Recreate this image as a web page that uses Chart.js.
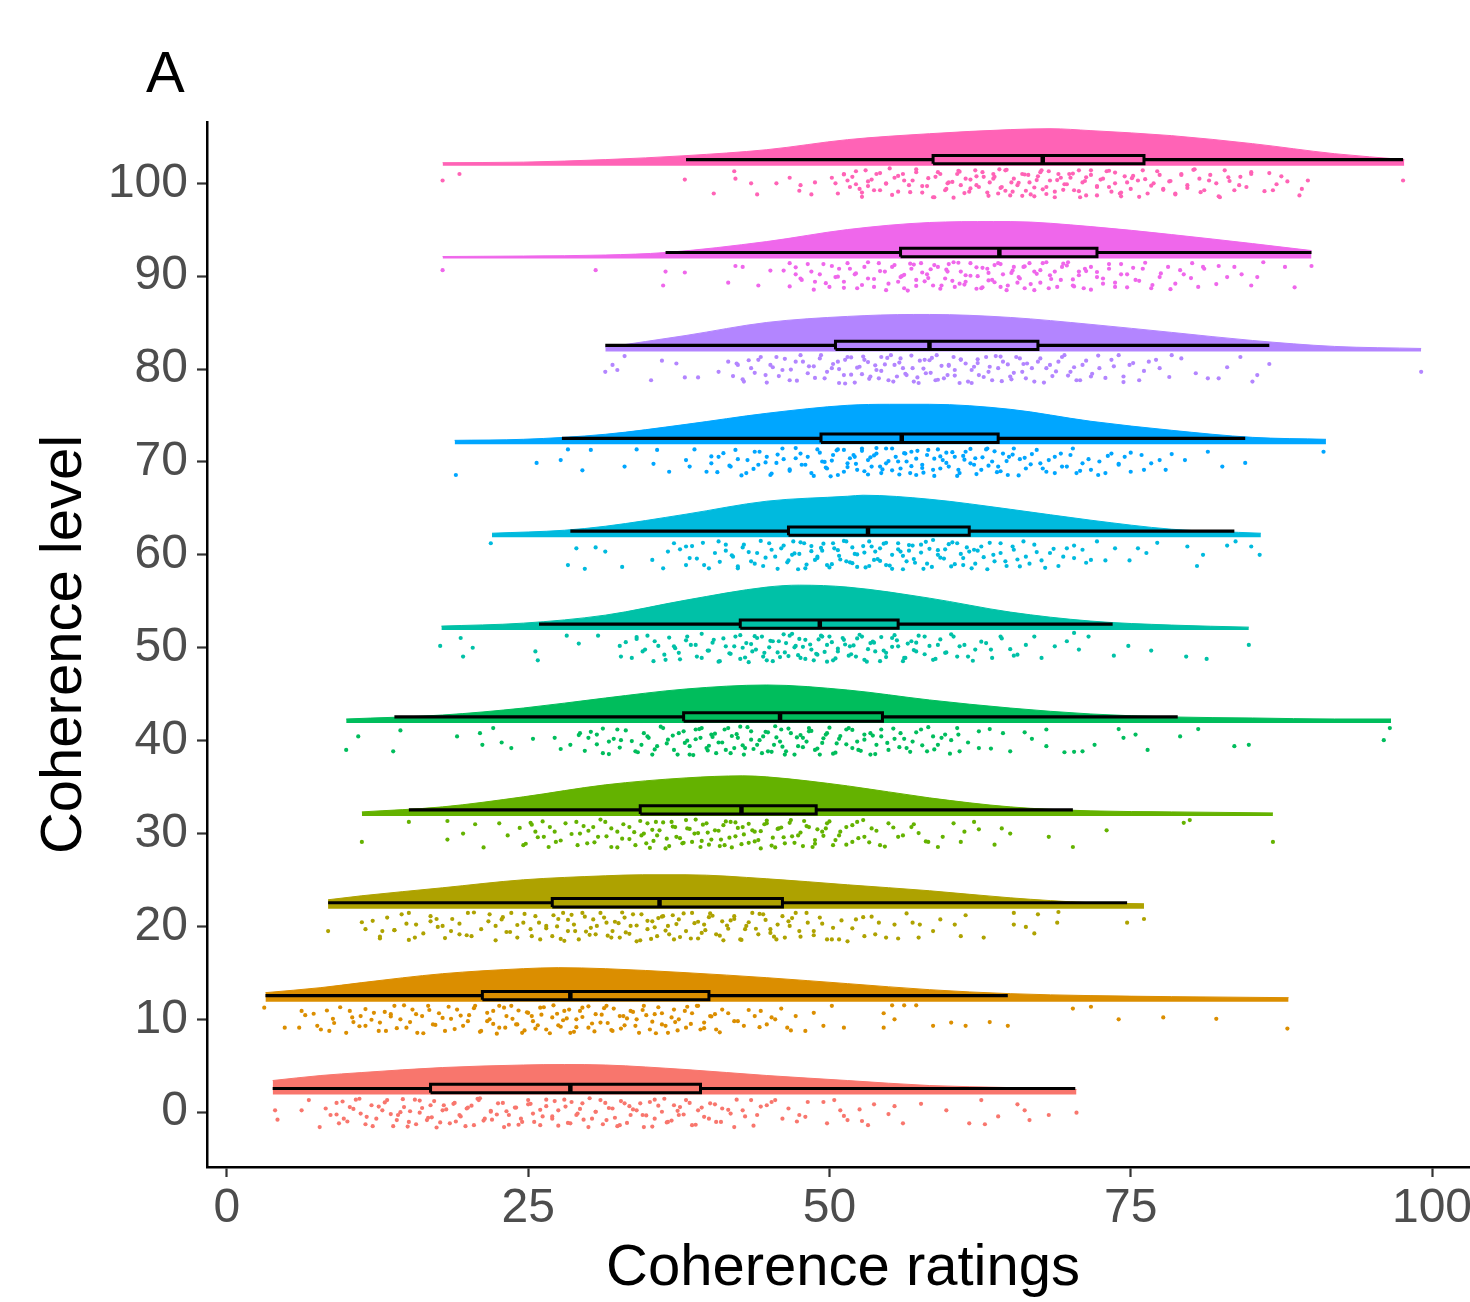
<!DOCTYPE html>
<html><head><meta charset="utf-8">
<script src="https://cdn.jsdelivr.net/npm/chart.js@4.4.1/dist/chart.umd.min.js"></script>
<style>
html,body{margin:0;padding:0;background:#fff;overflow:hidden;}
#wrap{position:relative;width:1500px;height:1302px;}
canvas{display:block;}
</style></head><body>
<div id="wrap"><canvas id="c" width="1500" height="1302"></canvas></div>
<script>
// ---------------- data ----------------
const levels = [0,10,20,30,40,50,60,70,80,90,100];
const xTicks = [0,25,50,75,100];
const yTicks = [0,10,20,30,40,50,60,70,80,90,100];

const boxMin    = [3.8, 3.2, 8.4, 15.1, 13.9, 25.9, 28.5, 27.8, 31.4, 36.4, 38.1];
const boxQ1     = [16.9,21.2,27.0,34.3, 37.9, 42.6, 46.6, 49.3, 50.5, 55.9, 58.6];
const boxMedian = [28.5,28.5,35.9,42.7, 45.9, 49.2, 53.2, 56.0, 58.3, 64.1, 67.7];
const boxQ3     = [39.3,40.0,46.1,48.9, 54.4, 55.7, 61.6, 64.0, 67.3, 72.2, 76.1];
const boxMax    = [70.4,64.8,74.7,70.2, 78.9, 73.5, 83.6, 84.5, 86.5, 90.0, 97.6];

// half-violin density heights [rating, height in level units]
const violin0 = [[3.8,1.51],[7.8,2.05],[11.2,2.37],[17.9,2.91],[24.6,3.18],[28,3.23],[31.4,3.18],[38.1,2.69],[44.8,2.05],[51.5,1.51],[58.3,0.97],[65,0.75],[70.5,0.54]];
const violin10 = [[3.2,0.97],[7.8,1.51],[11.2,2.05],[17.9,3.01],[24.6,3.55],[27.5,3.66],[31.4,3.55],[38.1,3.12],[44.8,2.58],[51.5,1.94],[58.3,1.29],[65,0.86],[71.7,0.65],[78.4,0.54],[88.1,0.43]];
const violin20 = [[8.4,0.97],[11.2,1.40],[17.9,2.26],[24.6,3.12],[31.4,3.55],[34.5,3.66],[38.1,3.66],[44.8,3.23],[51.5,2.58],[58.3,1.94],[65,1.18],[71.7,0.65],[76.1,0.54]];
const violin30 = [[11.2,0.43],[17.9,0.97],[24.6,2.05],[31.4,3.34],[38.1,4.09],[42.8,4.31],[44.8,4.20],[51.5,3.23],[58.3,1.94],[65,0.97],[71.7,0.54],[78.4,0.43],[86.8,0.32]];
const violin40 = [[9.9,0.43],[17.9,0.86],[24.6,1.61],[31.4,2.69],[38.1,3.66],[44.8,4.09],[51.5,3.55],[58.3,2.48],[65,1.61],[71.7,0.97],[78.4,0.65],[85.1,0.54],[91.9,0.43],[96.6,0.43]];
const violin50 = [[17.8,0.43],[24.6,0.75],[31.4,1.61],[38.1,3.23],[44.8,4.63],[47.5,4.84],[51.5,4.63],[58.3,3.44],[65,1.94],[71.7,0.97],[78.4,0.54],[84.8,0.32]];
const violin60 = [[22,0.43],[28,0.75],[31.4,1.18],[38.1,2.48],[44.8,3.88],[51.5,4.41],[52.8,4.52],[58.3,4.09],[65,3.01],[71.7,1.83],[78.4,0.86],[85.8,0.43]];
const violin70 = [[18.9,0.43],[24.6,0.54],[31.4,1.08],[38.1,2.15],[44.8,3.34],[51.5,4.20],[55,4.31],[58.3,4.31],[65,3.77],[71.7,2.48],[78.4,1.51],[85.1,0.75],[91.2,0.54]];
const violin80 = [[31.4,0.43],[38.1,1.72],[44.8,3.12],[51.5,3.77],[57,3.98],[58.3,3.98],[65,3.66],[71.7,2.91],[78.4,2.05],[85.1,1.18],[91.9,0.54],[99.1,0.32]];
const violin90 = [[17.9,0.22],[24.6,0.27],[31.4,0.38],[36.4,0.65],[44.8,1.83],[51.5,3.12],[58.3,3.88],[63.6,3.98],[65,3.98],[71.7,3.44],[78.4,2.58],[85.1,1.61],[90,0.86]];
const violin100 = [[17.9,0.32],[24.6,0.38],[31.4,0.65],[38.1,1.08],[44.8,1.72],[51.5,2.80],[58.3,3.44],[65,3.88],[68.3,3.98],[71.7,3.77],[78.4,3.23],[85.1,2.37],[91.9,1.29],[97.7,0.65]];

// jittered raw ratings [rating, vertical jitter in level units] - sparse/outlying points
const points0 = [[4.0,0.2],[4.2,-0.8],[6.2,0.2],[6.8,1.3],[7.7,-1.6],[8.2,0.4],[8.6,-0.3],[9.1,1.0],[9.3,-1.2],[9.7,-0.7],[10.2,0.55],[10.7,1.35],[11.1,-0.15],[11.5,-1.3],[12.0,0.75],[12.4,-0.7],[12.9,0.2],[13.3,1.3],[13.8,-1.5],[14.2,-0.3],[14.7,0.55],[15.1,-1.05],[15.6,1.35],[16.0,-0.05],[16.6,-0.85],[16.9,0.75],[17.4,-1.65],[17.9,0.2],[18.5,-1.2],[18.9,1.0],[19.4,-0.45],[19.9,0.4],[20.5,-1.4],[20.9,1.3],[21.4,-0.7],[21.9,0.05],[22.5,0.95],[23.0,-1.6],[23.4,-0.3],[24.0,0.5],[24.5,-1.05],[25.0,1.3],[25.4,-0.15],[26.0,-1.4],[26.5,0.65],[27.0,-0.7],[27.5,0.2],[28.0,1.35],[28.5,-1.2],[29.0,-0.3],[29.5,0.95],[30.0,-1.6],[30.6,0.05],[31.0,1.3],[31.5,-0.85],[32.0,0.4],[32.6,-1.4],[33.0,0.95],[33.5,-0.3],[34.0,0.2],[34.6,-1.6],[35.1,1.1],[35.5,-0.7],[36.1,0.05],[36.6,-1.05],[37.1,0.75],[37.5,-0.3],[38.1,1.3],[38.6,-1.4],[39.1,0.2],[39.6,-0.5],[40.1,0.95],[40.6,-1.05],[41.1,0.4],[41.8,-0.15],[42.1,-1.6],[42.8,0.2],[43.5,1.3],[44.0,-0.3],[44.8,0.75],[45.5,1.3],[46.1,-0.7],[47.5,-0.3],[48.0,-0.5],[48.2,1.1],[49.5,1.1],[49.8,-1.2],[50.9,0.2],[51.5,-0.85],[52.5,0.3],[52.7,-0.95],[53.7,0.85],[54.9,-0.2],[55.4,0.65],[56.1,-1.2],[59.7,0.2],[61.6,-1.2],[62.6,1.3],[62.9,-1.3],[64.0,-0.45],[65.6,0.85],[66.2,0.2],[66.6,-0.85],[68.2,-0.3],[70.5,-0.05]];
const points10 = [[3.1,1.25],[4.8,-0.9],[6.0,-0.9],[6.2,0.9],[6.5,0.45],[7.5,-0.7],[8.5,-1.25],[8.8,0.05],[10.2,0.9],[10.5,-0.3],[11.1,0.35],[11.5,-0.7],[12.2,0.7],[12.7,-0.35],[13.2,-1.25],[13.6,0.55],[13.9,1.45],[14.4,0.0],[14.9,-0.9],[15.4,1.05],[15.8,-1.45],[16.2,0.35],[16.7,1.45],[17.1,-0.55],[17.6,0.65],[18.1,-1.25],[18.6,0.05],[19.1,1.05],[19.6,-0.7],[20.1,0.45],[20.6,1.45],[21.1,-1.25],[21.6,-0.2],[22.1,0.9],[22.6,-0.9],[23.2,0.35],[23.6,1.45],[24.1,-0.55],[24.5,-1.45],[25.0,0.7],[25.4,-0.2],[26.0,1.25],[26.5,-1.1],[27.0,0.2],[27.5,-0.65],[28.0,0.9],[28.5,-1.45],[29.0,0.0],[29.5,1.25],[30.0,-0.9],[30.6,0.55],[31.0,-0.35],[31.5,1.45],[32.0,-1.25],[32.6,0.35],[33.0,-0.65],[33.5,0.9],[34.0,0.0],[34.6,1.45],[35.1,-1.1],[35.5,0.55],[36.1,-0.55],[36.6,-1.45],[37.1,1.05],[37.5,0.0],[38.1,-0.9],[38.6,0.65],[39.1,1.45],[39.6,-0.35],[40.1,0.35],[40.6,-1.1],[41.1,1.05],[42.1,-0.2],[42.9,-0.7],[43.8,0.35],[44.3,0.9],[44.8,-0.55],[45.5,0.0],[46.0,1.15],[46.5,-0.9],[47.2,0.35],[48.0,-1.25],[48.7,0.7],[49.5,-0.7],[50.2,1.45],[51.2,-0.9],[54.5,0.65],[55.2,1.5],[55.4,0.0],[54.5,-0.9],[56.2,1.5],[57.2,1.5],[58.6,-0.7],[60.1,-0.35],[61.3,-0.7],[63.3,-0.3],[64.8,-0.7],[70.2,1.15],[71.7,1.35],[74.0,0.0],[77.7,0.2],[82.1,0.05],[88.0,-1.0]];
const points20 = [[8.4,-0.5],[11.2,0.45],[11.5,-0.3],[12.7,-1.3],[12.9,-0.5],[13.9,-0.4],[14.9,0.3],[15.1,1.45],[15.6,-1.2],[16.9,0.55],[17.4,0.8],[17.9,0.05],[18.6,-0.5],[19.3,-0.85],[20.0,1.45],[20.3,-1.05],[21.8,1.3],[22.3,0.05],[22.8,0.75],[23.2,-0.6],[23.6,1.45],[24.1,-1.2],[24.6,0.4],[25.2,-0.3],[25.6,1.1],[26.0,-1.4],[26.5,0.05],[27.0,-1.05],[27.5,0.8],[27.9,1.45],[28.3,-0.5],[28.8,0.2],[29.2,-1.4],[29.7,1.05],[30.2,-0.15],[30.6,-0.85],[31.0,1.45],[31.5,0.4],[32.0,-0.5],[32.6,-1.2],[33.0,0.95],[33.5,0.05],[34.0,-1.6],[34.4,1.3],[34.9,-0.3],[35.3,0.55],[35.7,-1.05],[36.2,1.1],[36.6,0.05],[37.1,-1.4],[37.5,0.75],[38.1,-0.5],[38.6,1.45],[39.1,-1.3],[39.6,0.2],[40.1,1.4],[40.6,-0.85],[41.1,0.55],[41.6,-0.25],[42.1,1.1],[42.6,-1.4],[43.1,0.05],[43.6,1.45],[44.1,-0.85],[44.7,0.7],[45.1,-0.3],[45.6,-1.4],[46.1,1.1],[46.7,0.05],[47.2,1.45],[47.6,-1.1],[48.2,0.4],[48.7,-0.5],[49.2,0.95],[49.8,-1.4],[50.3,-0.15],[50.8,-1.4],[51.5,-1.6],[52.2,0.75],[52.9,-1.05],[53.5,1.05],[54.1,0.4],[54.7,-1.2],[55.4,0.2],[55.7,-1.3],[56.4,1.4],[56.9,0.4],[57.4,-1.2],[58.6,-0.5],[59.2,0.75],[60.4,0.2],[60.9,-1.05],[61.3,1.2],[65.3,1.45],[65.3,0.2],[66.3,-0.05],[67.0,-0.75],[67.3,1.3],[68.9,0.4],[69.0,1.55],[74.7,0.4],[76.1,0.8]];
const points30 = [[11.2,-0.9],[15.1,1.25],[18.3,1.35],[18.3,-0.65],[19.6,0.0],[20.6,1.0],[21.3,-1.5],[22.6,1.1],[23.3,-0.2],[24.6,-1.25],[25.2,1.15],[25.6,0.2],[26.3,-0.35],[26.8,0.7],[27.3,-0.9],[29.0,1.25],[29.3,0.0],[29.9,-1.05],[30.4,0.7],[30.8,-0.35],[31.4,1.25],[31.9,-1.45],[32.4,0.2],[32.8,-0.55],[33.4,0.7],[33.9,-1.25],[34.4,-0.2],[34.9,1.1],[35.4,-0.8],[35.9,0.35],[36.4,-1.6],[36.9,1.25],[37.3,-0.35],[37.8,-1.05],[38.2,0.55],[38.8,0.0],[39.3,-1.45],[39.8,1.1],[40.2,-0.65],[40.8,0.3],[41.3,-1.25],[41.8,1.25],[42.2,-0.3],[42.8,0.7],[43.3,-1.0],[43.8,0.2],[44.3,-1.6],[44.8,1.1],[45.3,-0.45],[45.8,0.55],[46.3,-1.05],[46.8,1.45],[47.4,-0.2],[47.8,-1.35],[48.3,0.7],[48.8,-0.7],[49.4,0.2],[49.8,1.1],[50.3,-1.25],[50.8,-0.2],[51.4,0.7],[51.9,-0.9],[52.3,1.25],[52.9,-0.35],[53.5,0.55],[54.2,-1.25],[54.9,1.1],[55.7,-0.35],[56.8,0.7],[57.4,0.05],[58.2,-0.9],[59.0,-1.45],[59.4,-0.35],[60.3,1.1],[60.9,-0.9],[62.0,1.25],[62.4,0.45],[64.3,0.55],[65.0,0.0],[68.2,-0.35],[70.2,-1.45],[73.0,0.35],[79.4,1.15],[79.9,1.45],[86.8,-0.9]];
const points40 = [[9.9,-1.0],[10.9,0.45],[13.8,-1.15],[14.4,1.1],[19.1,0.45],[21.0,0.8],[21.2,-0.45],[22.1,1.35],[22.8,-0.2],[23.6,-0.8],[25.4,0.2],[27.2,0.3],[27.7,-0.9],[28.5,-0.45],[29.3,0.8],[30.0,0.3],[30.7,0.65],[31.2,-1.35],[31.7,-0.1],[32.4,1.2],[32.7,0.05],[33.9,-1.15],[34.4,-0.45],[34.9,0.45],[35.3,-1.5],[35.7,-0.6],[36.2,1.35],[36.6,0.1],[37.1,-1.0],[37.5,0.8],[38.0,-0.25],[38.4,-1.5],[38.9,1.2],[39.3,0.3],[39.8,-0.8],[40.2,0.65],[40.6,-1.35],[41.1,-0.2],[41.6,1.35],[42.1,-0.8],[42.4,0.3],[42.9,-1.5],[43.5,1.0],[44.0,-0.45],[44.5,0.45],[44.9,-1.15],[45.5,1.55],[45.9,-0.1],[46.3,-1.5],[46.8,0.8],[47.4,-0.6],[47.8,0.3],[48.3,1.35],[48.8,-1.0],[49.4,-0.25],[49.8,0.8],[50.3,-1.4],[50.8,0.2],[51.4,1.2],[51.9,-0.8],[52.3,-0.1],[52.9,0.65],[53.4,-1.5],[53.9,-0.45],[54.3,1.2],[54.9,-1.0],[55.4,0.2],[55.9,0.8],[56.4,-0.8],[56.9,-0.1],[57.6,1.2],[58.1,-1.15],[58.6,0.45],[59.0,-0.45],[59.6,0.65],[60.1,0.05],[60.6,1.35],[60.8,-1.15],[62.4,-0.8],[63.3,1.25],[64.4,0.8],[65.0,-1.15],[66.2,0.9],[68.0,1.2],[68.0,-0.6],[69.5,-1.25],[71.0,-1.15],[72.0,-0.45],[74.0,1.25],[74.4,0.3],[75.4,0.65],[76.4,-1.0],[79.1,0.45],[80.6,1.25],[83.6,-0.6],[84.8,-0.45],[96.0,0.05],[96.5,1.35]];
const points50 = [[17.7,0.2],[19.4,1.05],[20.4,0.0],[19.6,-0.95],[25.6,-0.4],[25.8,-1.35],[28.2,1.3],[29.2,0.45],[30.8,1.3],[32.6,0.2],[32.7,-0.95],[34.0,1.15],[34.7,-0.2],[35.5,0.7],[36.4,-1.3],[37.1,0.15],[37.5,-0.55],[38.2,1.2],[38.9,0.3],[39.4,-1.1],[40.0,-0.3],[40.4,0.85],[40.9,-1.45],[41.4,0.15],[41.8,-0.65],[42.2,1.2],[42.6,-1.2],[43.1,0.5],[43.6,-0.4],[44.0,1.05],[44.5,-0.95],[45.0,0.05],[45.3,-1.45],[45.8,0.7],[46.3,-0.5],[46.7,1.3],[47.2,0.2],[47.6,-1.1],[48.0,0.85],[48.5,-0.2],[49.0,-0.75],[49.4,1.2],[49.8,0.3],[50.3,-1.35],[50.7,-0.4],[51.2,0.85],[51.7,0.15],[52.2,-0.95],[52.7,1.2],[53.2,-0.15],[53.7,0.55],[54.2,-1.45],[54.7,-0.55],[55.2,1.05],[55.7,0.15],[56.2,-1.1],[56.8,0.7],[57.2,-0.4],[57.9,1.2],[58.6,-1.3],[59.0,0.3],[59.6,-0.55],[60.3,1.2],[60.8,0.15],[61.5,-0.95],[62.1,-0.2],[63.0,0.5],[63.5,-1.1],[64.2,1.2],[65.0,-0.15],[65.6,-0.75],[66.3,0.3],[67.0,1.2],[67.6,-1.1],[68.7,0.15],[69.7,0.7],[70.3,1.6],[70.7,-0.2],[71.5,1.2],[73.6,-0.85],[76.7,-0.3],[79.6,-0.95],[84.8,0.3]];
const points60 = [[21.9,1.25],[28.3,-1.1],[29.0,0.7],[29.7,-1.5],[30.6,0.8],[31.4,0.35],[32.8,-1.3],[35.3,-0.55],[36.2,-1.45],[36.6,0.35],[37.1,1.25],[38.1,0.9],[38.4,-0.35],[39.6,-1.1],[40.8,1.45],[41.4,0.45],[42.0,-0.2],[42.4,-1.45],[42.9,1.1],[43.5,-0.7],[44.0,0.2],[44.5,-1.2],[45.0,1.25],[45.5,-0.2],[46.0,0.7],[46.5,-0.8],[47.0,1.45],[47.5,0.1],[48.0,-1.45],[48.5,0.95],[49.0,-0.35],[49.4,0.45],[49.8,-1.1],[50.3,1.25],[50.8,-0.1],[51.4,-0.7],[51.9,0.8],[52.3,-1.3],[52.9,0.25],[53.3,1.45],[53.7,-0.55],[54.2,0.7],[54.7,-1.1],[55.2,0.0],[55.7,1.25],[56.1,-1.55],[56.6,0.45],[57.0,-0.45],[57.6,1.1],[58.1,-0.95],[58.6,1.6],[59.0,0.0],[59.6,0.6],[60.1,-1.25],[60.6,1.25],[61.1,-0.35],[61.6,0.35],[62.1,-0.95],[62.6,0.9],[63.1,-1.55],[63.6,0.0],[64.2,1.25],[64.6,-0.7],[65.3,0.55],[65.8,-1.25],[66.3,-0.2],[67.0,1.1],[67.6,-0.6],[68.3,0.2],[69.0,-1.2],[69.7,0.7],[70.3,-0.35],[71.0,0.55],[71.7,-0.55],[72.2,1.45],[72.9,-0.6],[73.7,0.7],[74.9,-0.6],[75.6,0.7],[77.2,1.3],[79.7,0.9],[81.0,0.0],[83.0,1.0],[83.7,1.45],[85.0,0.9],[85.7,0.0]];
const points70 = [[19.0,-1.4],[25.7,-0.1],[27.7,0.2],[28.3,1.35],[30.2,1.3],[33.0,-0.5],[34.0,1.35],[35.4,-0.2],[35.7,1.3],[36.7,-1.05],[38.1,0.2],[38.8,1.35],[38.4,-0.5],[39.8,-1.05],[40.2,-0.15],[40.8,0.55],[41.8,-0.5],[42.4,0.3],[43.1,-1.2],[43.8,1.1],[44.1,-0.3],[44.8,0.55],[45.1,-1.4],[45.6,-0.1],[46.1,1.45],[46.7,-0.8],[47.2,0.4],[47.6,0.9],[48.0,-0.3],[48.5,-1.2],[49.0,1.35],[49.4,0.05],[49.8,-0.7],[50.3,0.75],[50.7,-1.4],[51.2,1.3],[51.5,-0.15],[52.1,0.55],[52.3,-0.85],[52.7,1.45],[53.2,0.2],[53.5,-0.5],[53.9,0.9],[54.3,-1.2],[54.7,-0.15],[55.2,1.45],[55.5,0.55],[55.9,-0.7],[56.4,0.05],[56.8,1.1],[57.2,-1.4],[57.7,-0.3],[58.1,0.75],[58.6,-0.85],[59.0,1.35],[59.4,0.2],[59.9,-0.5],[60.4,0.55],[60.8,-1.2],[61.3,1.1],[61.7,-0.15],[62.1,0.4],[62.6,-0.85],[63.1,1.45],[63.5,0.05],[64.0,-0.5],[64.4,0.9],[64.8,-1.4],[65.3,1.45],[65.8,0.3],[66.3,-0.7],[66.8,0.85],[67.5,-0.15],[68.0,-1.05],[68.7,0.55],[69.3,-0.5],[70.0,0.75],[70.5,-1.2],[71.0,-0.15],[71.7,-0.85],[72.4,0.05],[72.9,-1.2],[73.4,0.9],[74.0,-0.3],[74.5,0.55],[75.0,-1.05],[75.9,0.75],[76.7,-0.15],[77.4,0.2],[77.9,-0.85],[78.4,0.85],[81.4,1.1],[82.6,-0.5],[84.5,-0.1],[91.0,1.1]];
const points80 = [[31.4,-0.3],[32.0,0.45],[32.4,-0.1],[33.0,1.4],[36.1,0.9],[37.3,0.6],[38.0,-0.9],[39.1,-0.9],[40.8,-0.3],[41.6,0.8],[42.0,-0.75],[42.4,0.45],[42.9,-1.35],[43.5,0.1],[44.1,1.0],[44.7,-0.65],[45.1,0.45],[45.6,1.3],[46.1,-0.1],[46.7,-1.2],[47.2,0.8],[47.6,1.5],[48.2,-0.45],[48.7,0.3],[49.2,1.15],[49.6,-1.0],[50.2,0.1],[50.7,0.8],[51.2,-0.65],[51.5,1.3],[52.1,-1.45],[52.5,0.25],[52.9,1.0],[53.4,-0.8],[53.9,-0.1],[54.3,1.3],[54.9,-1.2],[55.4,0.45],[55.9,1.15],[56.4,-0.65],[56.9,0.1],[57.4,-1.5],[57.9,1.0],[58.4,-0.4],[58.9,1.5],[59.5,-1.0],[59.9,0.45],[60.4,-0.1],[60.9,1.05],[61.5,-1.35],[62.0,0.25],[62.4,-0.65],[63.0,1.3],[63.5,-1.2],[64.0,0.1],[64.4,0.8],[65.0,-0.8],[65.5,1.3],[66.0,-0.3],[66.4,0.6],[67.0,-1.35],[67.5,1.15],[68.0,0.1],[68.5,-0.75],[69.0,0.8],[69.5,1.5],[70.0,-0.3],[70.5,-1.2],[71.0,0.45],[71.7,-0.8],[72.4,0.1],[73.4,1.0],[74.0,1.5],[74.4,-0.8],[74.9,0.45],[75.7,-1.2],[76.5,0.8],[77.4,0.1],[78.4,1.5],[79.2,1.15],[80.4,-0.45],[81.4,-1.0],[82.3,-1.0],[84.1,1.3],[85.1,-1.35],[85.5,-0.65],[86.5,0.55],[99.1,-0.3]];
const points90 = [[17.9,0.65],[30.6,0.65],[36.4,0.5],[36.2,-1.0],[38.0,0.4],[41.6,-0.7],[42.2,1.1],[42.8,1.0],[44.1,-1.0],[45.1,0.6],[46.7,1.4],[47.2,0.2],[47.6,-0.25],[48.5,0.5],[48.8,-0.6],[49.5,1.3],[50.0,-1.15],[50.5,-0.1],[50.8,0.8],[51.2,-0.6],[51.5,1.4],[52.1,0.2],[52.3,-1.3],[52.9,1.0],[53.2,-0.25],[53.7,-1.15],[54.1,1.4],[54.6,0.5],[54.9,-0.8],[55.4,1.2],[55.9,-0.1],[56.2,-1.3],[56.8,0.8],[57.2,-0.4],[57.6,1.4],[58.1,0.2],[58.6,-1.0],[59.0,1.0],[59.6,-0.25],[59.9,1.3],[60.4,-1.15],[60.9,0.5],[61.3,-0.6],[61.7,1.4],[62.3,0.0],[62.6,-1.3],[63.1,0.8],[63.5,-0.4],[64.0,1.4],[64.4,0.2],[64.8,-1.0],[65.3,1.0],[65.8,-0.25],[66.2,-1.3],[66.6,1.4],[67.0,0.5],[67.5,-0.7],[68.0,1.5],[68.3,0.1],[68.9,-1.15],[69.3,1.0],[69.8,1.5],[70.2,-0.35],[70.7,0.5],[71.1,-1.3],[71.7,1.0],[72.2,-0.1],[72.7,-0.8],[73.2,0.8],[73.7,-1.15],[74.2,1.3],[74.7,0.2],[75.4,-0.4],[76.0,0.8],[76.7,-1.3],[77.4,-0.1],[78.1,1.0],[78.7,-0.8],[79.4,0.2],[80.1,1.4],[80.6,-1.15],[81.1,0.8],[82.3,1.1],[83.0,-0.1],[83.6,1.0],[85.0,-1.0],[85.5,-0.1],[86.0,1.5],[87.8,1.0],[90.0,1.1]];
const points100 = [[17.9,0.3],[19.3,1.0],[38.0,0.4],[40.4,-1.1],[42.1,1.3],[42.2,0.5],[43.5,0.0],[45.6,0.0],[46.7,0.6],[47.5,-0.8],[47.6,-0.2],[48.5,-1.2],[48.8,0.1],[50.5,0.0],[51.2,1.0],[51.5,0.3],[51.9,0.7],[52.2,-0.1],[52.5,-0.6],[52.7,-1.0],[53.0,1.4],[53.2,-0.3],[53.5,0.4],[53.9,1.0],[54.2,-0.75],[54.7,0.0],[55.0,1.6],[55.4,0.6],[55.7,-0.9],[56.1,1.0],[56.6,-0.2],[56.9,0.3],[57.2,1.2],[57.7,-1.0],[58.1,-0.3],[58.6,-1.5],[58.8,0.7],[59.0,1.2],[59.6,-0.75],[59.9,0.1],[60.6,1.0],[60.9,-0.2],[61.3,0.5],[61.6,-0.9],[62.1,1.4],[62.4,-0.4],[62.8,0.7],[63.3,0.1],[63.6,1.0],[64.0,-1.1],[64.3,-0.4],[64.6,1.4],[65.0,-1.3],[65.3,0.5],[65.6,-0.2],[66.0,1.0],[66.3,-0.8],[66.6,0.1],[67.0,-1.4],[67.3,0.75],[67.6,1.4],[68.0,-0.4],[68.3,0.3],[68.7,-0.9],[69.0,1.0],[69.5,-0.1],[70.0,0.6],[70.3,-0.75],[70.7,1.4],[71.0,0.1],[71.3,-1.3],[71.7,0.9],[72.2,-0.4],[72.5,0.4],[73.0,1.3],[73.4,-0.9],[73.7,0.0],[74.2,-1.4],[74.5,0.75],[75.0,-0.6],[75.6,0.3],[76.0,1.4],[76.4,-1.1],[76.9,0.0],[77.4,0.9],[77.7,-0.6],[78.3,0.25],[78.7,-1.1],[79.2,1.0],[79.7,-0.2],[80.3,1.5],[80.7,0.5],[81.1,-0.75],[81.6,0.9],[82.1,0.0],[82.4,-1.5],[82.8,1.4],[83.2,0.25],[83.6,-0.75],[84.1,0.7],[84.6,-0.4],[85.0,1.2],[86.5,1.1],[86.8,-0.75],[87.1,-0.1],[87.5,0.75],[89.0,-1.3],[89.2,-0.6],[89.7,0.3],[97.6,0.3]];

// additional points estimated for the dense middle of each cloud
const dense0 = [[9.1,-0.25],[9.6,1.15],[10.0,-1.0],[10.5,0.35],[11.0,1.45],[11.6,-0.5],[12.1,-1.5],[12.6,0.6],[13.1,1.05],[13.6,-0.2],[14.1,-0.85],[14.6,1.4],[15.2,0.1],[15.7,-1.3],[16.2,0.45],[16.7,-0.6],[17.2,1.2],[17.7,-1.1],[18.2,0.3],[18.8,0.9],[19.3,-0.3],[19.8,-1.5],[20.3,0.7],[20.8,1.45],[21.3,-0.9],[21.9,0.15],[22.4,-0.25],[22.9,1.0],[23.4,-1.35],[23.9,0.5],[24.4,-0.7],[25.0,0.85],[25.5,-1.05],[26.0,0.25],[26.5,1.35],[27.0,-0.45],[27.5,-1.45],[28.1,0.6],[28.6,1.1],[29.1,-0.15],[29.6,-0.8],[30.1,1.5],[30.6,0.05],[31.2,-1.3],[31.7,0.45],[32.2,-0.6],[32.7,1.2],[33.2,-1.15],[33.7,0.3],[34.3,0.95],[34.8,-0.35],[35.3,-1.55],[35.8,0.7],[36.3,1.45],[36.9,-0.9],[37.4,0.15],[37.9,-0.25],[38.4,1.0],[38.9,-1.35],[39.4,0.5],[40.0,-0.7],[40.5,0.85],[41.0,-1.05],[41.6,0.25],[42.3,1.35],[43.0,-0.45],[43.7,-1.45],[44.3,0.6],[45.2,1.1],[46.6,0.4],[47.3,-1.0],[50.4,1.3],[51.2,-0.4],[53.2,-1.4],[57.6,0.9],[14.4,0.0],[15.0,-1.55],[16.0,1.25],[17.0,-0.55],[18.0,0.75],[19.0,-1.0],[20.0,0.5],[21.0,1.5],[22.0,-0.8],[23.2,0.1],[24.2,-1.35],[25.2,0.9],[26.2,-0.45],[27.2,1.2],[28.3,-1.15],[29.3,0.35],[30.3,-0.7],[31.4,1.0],[32.4,-1.5],[33.4,0.65],[34.5,-0.3],[35.5,1.35],[36.5,-1.1],[37.6,0.55]];
const dense10 = [[7.2,0.6],[7.8,-1.1],[8.3,0.95],[8.9,-0.4],[9.4,1.3],[9.9,-1.45],[10.4,0.2],[11.0,-0.75],[11.5,1.1],[12.0,-0.05],[12.6,-1.25],[13.1,0.8],[13.6,0.3],[14.1,-0.95],[14.7,1.5],[15.2,-0.3],[15.7,0.55],[16.3,-1.5],[16.8,1.0],[17.3,-0.6],[17.9,0.15],[18.4,1.35],[18.9,-1.05],[19.4,0.4],[20.0,-0.2],[20.5,1.2],[21.0,-1.35],[21.6,0.7],[22.1,-0.5],[22.6,1.45],[23.1,-0.9],[23.7,0.05],[24.2,0.95],[24.7,-1.2],[25.3,0.35],[25.8,-0.65],[26.3,1.3],[26.8,-1.5],[27.4,0.6],[27.9,-0.1],[28.4,1.05],[29.0,-0.85],[29.5,0.25],[30.0,1.4],[30.5,-1.3],[31.1,0.5],[31.6,-0.4],[32.1,1.15],[32.7,-1.0],[33.2,0.1],[33.7,0.8],[34.2,-1.45],[34.8,0.45],[35.3,-0.25],[35.8,1.3],[36.4,-0.7],[36.9,0.2],[37.4,-1.2],[38.0,0.9],[38.5,-0.5],[39.0,1.45],[39.6,-0.95],[40.2,0.3],[40.9,-1.4],[41.6,0.65],[42.4,-0.2],[43.3,1.0],[44.2,-0.85],[21.8,0.0],[22.4,-1.55],[23.0,1.25],[24.0,-0.55],[24.9,0.75],[25.6,-1.0],[26.1,0.5],[27.1,1.5],[27.7,-0.8],[28.2,0.1],[28.8,-1.35],[29.3,0.9],[30.3,-0.45],[31.3,1.2],[31.9,-1.15],[32.9,0.35],[33.9,-0.7],[34.5,1.0],[35.6,-1.5],[36.1,0.65],[37.2,-0.3],[38.2,1.35],[39.3,-1.1],[40.5,0.55],[45.2,0.2],[46.8,-1.2]];
const dense20 = [[12.1,0.6],[12.7,-1.1],[13.3,0.95],[13.9,-0.4],[14.5,1.3],[15.1,-1.45],[15.7,0.2],[16.3,-0.75],[16.9,1.1],[17.5,-0.05],[18.1,-1.25],[18.7,0.8],[19.3,0.3],[19.9,-0.95],[20.5,1.5],[21.1,-0.3],[21.7,0.55],[22.3,-1.5],[22.9,1.0],[23.5,-0.6],[24.1,0.15],[24.7,1.35],[25.3,-1.05],[25.9,0.4],[26.5,-0.2],[27.1,1.2],[27.7,-1.35],[28.3,0.7],[28.9,-0.5],[29.5,1.45],[30.1,-0.9],[30.7,0.05],[31.3,0.95],[31.9,-1.2],[32.5,0.35],[33.1,-0.65],[33.7,1.3],[34.3,-1.5],[34.9,0.6],[35.5,-0.1],[36.1,1.05],[36.7,-0.85],[37.3,0.25],[37.9,1.4],[38.5,-1.3],[39.1,0.5],[39.7,-0.4],[40.3,1.15],[40.9,-1.0],[41.5,0.1],[42.1,0.8],[42.7,-1.45],[43.3,0.45],[43.9,-0.25],[44.5,1.3],[45.1,-0.7],[45.7,0.2],[46.3,-1.2],[46.9,0.9],[47.5,-0.5],[48.1,1.45],[48.7,-0.95],[49.4,0.3],[50.2,-1.4],[51.0,0.65],[51.9,-0.2],[52.8,1.0],[53.8,-0.85],[27.4,0.0],[28.0,-1.55],[28.6,1.25],[29.8,-0.55],[30.4,0.75],[31.6,-1.0],[32.2,0.5],[32.8,1.5],[33.4,-0.8],[34.0,0.1],[35.2,-1.35],[35.8,0.9],[36.4,-0.45],[37.0,1.2],[37.6,-1.15],[38.8,0.35],[39.4,-0.7],[40.0,1.0],[41.2,-1.5],[41.8,0.65],[43.0,-0.3],[44.2,1.35],[45.4,-1.1],[46.6,0.55],[57.5,0.2],[62.8,-1.2]];
const dense30 = [[24.3,0.6],[24.8,-1.1],[25.3,0.95],[25.8,-0.4],[26.2,1.3],[26.7,-1.45],[27.2,0.2],[27.7,-0.75],[28.1,1.1],[28.6,-0.05],[29.1,-1.25],[29.6,0.8],[30.0,0.3],[30.5,-0.95],[31.0,1.5],[31.5,-0.3],[31.9,0.55],[32.4,-1.5],[32.9,1.0],[33.4,-0.6],[33.8,0.15],[34.3,1.35],[34.8,-1.05],[35.3,0.4],[35.7,-0.2],[36.2,1.2],[36.7,-1.35],[37.2,0.7],[37.6,-0.5],[38.1,1.45],[38.6,-0.9],[39.1,0.05],[39.5,0.95],[40.0,-1.2],[40.5,0.35],[41.0,-0.65],[41.4,1.3],[41.9,-1.5],[42.4,0.6],[42.9,-0.1],[43.3,1.05],[43.8,-0.85],[44.3,0.25],[44.8,1.4],[45.2,-1.3],[45.7,0.5],[46.2,-0.4],[46.7,1.15],[47.1,-1.0],[47.6,0.1],[48.1,0.8],[48.6,-1.45],[49.0,0.45],[49.5,-0.25],[50.0,1.3],[50.5,-0.7],[50.9,0.2],[51.4,-1.2],[51.9,0.9],[52.4,-0.5],[52.8,1.45],[53.3,-0.95],[53.9,0.3],[54.6,-1.4],[55.3,0.65],[56.1,-0.2],[57.0,1.0],[58.0,-0.85],[34.6,0.0],[35.1,-1.55],[35.6,1.25],[36.5,-0.55],[37.0,0.75],[37.9,-1.0],[38.4,0.5],[38.9,1.5],[39.4,-0.8],[39.9,0.1],[40.9,-1.35],[41.2,0.9],[41.7,-0.45],[42.2,1.2],[42.7,-1.15],[43.6,0.35],[44.1,-0.7],[44.6,1.0],[45.5,-1.5],[46.0,0.65],[46.9,-0.3],[47.9,1.35],[48.8,-1.1],[49.7,0.55],[61.2,0.2],[63.7,-1.2]];
const dense40 = [[29.2,0.6],[29.7,-1.1],[30.2,0.95],[30.7,-0.4],[31.2,1.3],[31.7,-1.45],[32.1,0.2],[32.6,-0.75],[33.1,1.1],[33.6,-0.05],[34.1,-1.25],[34.6,0.8],[35.0,0.3],[35.5,-0.95],[36.0,1.5],[36.5,-0.3],[37.0,0.55],[37.4,-1.5],[37.9,1.0],[38.4,-0.6],[38.9,0.15],[39.4,1.35],[39.9,-1.05],[40.3,0.4],[40.8,-0.2],[41.3,1.2],[41.8,-1.35],[42.3,0.7],[42.8,-0.5],[43.2,1.45],[43.7,-0.9],[44.2,0.05],[44.7,0.95],[45.2,-1.2],[45.6,0.35],[46.1,-0.65],[46.6,1.3],[47.1,-1.5],[47.6,0.6],[48.1,-0.1],[48.5,1.05],[49.0,-0.85],[49.5,0.25],[50.0,1.4],[50.5,-1.3],[50.9,0.5],[51.4,-0.4],[51.9,1.15],[52.4,-1.0],[52.9,0.1],[53.4,0.8],[53.8,-1.45],[54.3,0.45],[54.8,-0.25],[55.3,1.3],[55.8,-0.7],[56.2,0.2],[56.7,-1.2],[57.2,0.9],[57.7,-0.5],[58.2,1.45],[58.7,-0.95],[59.3,0.3],[60.0,-1.4],[60.7,0.65],[61.5,-0.2],[62.4,1.0],[63.4,-0.85],[38.2,0.0],[38.7,-1.55],[39.2,1.25],[40.0,-0.55],[40.5,0.75],[41.4,-1.0],[41.9,0.5],[42.6,1.5],[43.0,-0.8],[43.5,0.1],[44.4,-1.35],[44.9,0.9],[45.4,-0.45],[46.0,1.2],[46.4,-1.15],[47.3,0.35],[47.8,-0.7],[48.3,1.0],[49.2,-1.5],[49.7,0.65],[50.6,-0.3],[51.6,1.35],[52.6,-1.1],[53.6,0.55],[66.8,0.2],[70.3,-1.2]];
const dense50 = [[33.1,0.6],[33.6,-1.1],[34.0,0.95],[34.5,-0.4],[34.9,1.3],[35.4,-1.45],[35.8,0.2],[36.3,-0.75],[36.7,1.1],[37.2,-0.05],[37.6,-1.25],[38.1,0.8],[38.5,0.3],[39.0,-0.95],[39.4,1.5],[39.9,-0.3],[40.3,0.55],[40.8,-1.5],[41.2,1.0],[41.7,-0.6],[42.1,0.15],[42.6,1.35],[43.0,-1.05],[43.5,0.4],[43.9,-0.2],[44.4,1.2],[44.8,-1.35],[45.3,0.7],[45.7,-0.5],[46.2,1.45],[46.6,-0.9],[47.1,0.05],[47.5,0.95],[48.0,-1.2],[48.4,0.35],[48.9,-0.65],[49.3,1.3],[49.8,-1.5],[50.2,0.6],[50.7,-0.1],[51.1,1.05],[51.6,-0.85],[52.0,0.25],[52.5,1.4],[52.9,-1.3],[53.4,0.5],[53.8,-0.4],[54.3,1.15],[54.7,-1.0],[55.2,0.1],[55.6,0.8],[56.1,-1.45],[56.5,0.45],[57.0,-0.25],[57.4,1.3],[57.9,-0.7],[58.3,0.2],[58.8,-1.2],[59.2,0.9],[59.7,-0.5],[60.1,1.45],[60.6,-0.95],[61.2,0.3],[61.9,-1.4],[62.6,0.65],[63.4,-0.2],[64.3,1.0],[65.3,-0.85],[42.8,0.0],[43.3,-1.55],[43.8,1.25],[44.6,-0.55],[45.1,0.75],[45.9,-1.0],[46.4,0.5],[46.9,1.5],[47.4,-0.8],[47.8,0.1],[48.7,-1.35],[49.1,0.9],[49.6,-0.45],[50.0,1.2],[50.5,-1.15],[51.3,0.35],[51.8,-0.7],[52.3,1.0],[53.1,-1.5],[53.6,0.65],[54.5,-0.3],[55.4,1.35],[56.3,-1.1],[57.2,0.55],[74.8,0.2],[81.3,-1.2]];
const dense60 = [[37.6,0.6],[38.1,-1.1],[38.6,0.95],[39.0,-0.4],[39.5,1.3],[40.0,-1.45],[40.5,0.2],[40.9,-0.75],[41.4,1.1],[41.9,-0.05],[42.4,-1.25],[42.8,0.8],[43.3,0.3],[43.8,-0.95],[44.3,1.5],[44.7,-0.3],[45.2,0.55],[45.7,-1.5],[46.2,1.0],[46.6,-0.6],[47.1,0.15],[47.6,1.35],[48.1,-1.05],[48.5,0.4],[49.0,-0.2],[49.5,1.2],[50.0,-1.35],[50.4,0.7],[50.9,-0.5],[51.4,1.45],[51.9,-0.9],[52.3,0.05],[52.8,0.95],[53.3,-1.2],[53.8,0.35],[54.2,-0.65],[54.7,1.3],[55.2,-1.5],[55.7,0.6],[56.1,-0.1],[56.6,1.05],[57.1,-0.85],[57.6,0.25],[58.0,1.4],[58.5,-1.3],[59.0,0.5],[59.5,-0.4],[59.9,1.15],[60.4,-1.0],[60.9,0.1],[61.4,0.8],[61.8,-1.45],[62.3,0.45],[62.8,-0.25],[63.3,1.3],[63.7,-0.7],[64.2,0.2],[64.7,-1.2],[65.2,0.9],[65.6,-0.5],[66.1,1.45],[66.6,-0.95],[67.2,0.3],[67.9,-1.4],[68.6,0.65],[69.4,-0.2],[70.3,1.0],[71.3,-0.85],[46.9,0.0],[47.4,-1.55],[47.9,1.25],[48.8,-0.55],[49.3,0.75],[50.2,-1.0],[50.7,0.5],[51.2,1.5],[51.7,-0.8],[52.1,0.1],[53.0,-1.35],[53.5,0.9],[54.0,-0.45],[54.5,1.2],[55.0,-1.15],[55.9,0.35],[56.4,-0.7],[56.9,1.0],[57.8,-1.5],[58.3,0.65],[59.2,-0.3],[60.2,1.35],[61.1,-1.1],[62.0,0.55],[76.3,0.2],[80.5,-1.2]];
const dense70 = [[40.2,0.6],[40.7,-1.1],[41.2,0.95],[41.7,-0.4],[42.2,1.3],[42.7,-1.45],[43.2,0.2],[43.7,-0.75],[44.2,1.1],[44.7,-0.05],[45.2,-1.25],[45.7,0.8],[46.2,0.3],[46.7,-0.95],[47.2,1.5],[47.7,-0.3],[48.2,0.55],[48.7,-1.5],[49.2,1.0],[49.7,-0.6],[50.2,0.15],[50.7,1.35],[51.2,-1.05],[51.7,0.4],[52.2,-0.2],[52.7,1.2],[53.2,-1.35],[53.7,0.7],[54.2,-0.5],[54.7,1.45],[55.2,-0.9],[55.7,0.05],[56.2,0.95],[56.7,-1.2],[57.2,0.35],[57.7,-0.65],[58.2,1.3],[58.7,-1.5],[59.2,0.6],[59.7,-0.1],[60.2,1.05],[60.7,-0.85],[61.2,0.25],[61.7,1.4],[62.2,-1.3],[62.7,0.5],[63.2,-0.4],[63.7,1.15],[64.2,-1.0],[64.7,0.1],[65.2,0.8],[65.7,-1.45],[66.2,0.45],[66.7,-0.25],[67.2,1.3],[67.7,-0.7],[68.2,0.2],[68.7,-1.2],[69.2,0.9],[69.7,-0.5],[70.2,1.45],[70.8,-0.95],[71.5,0.3],[72.3,-1.4],[73.1,0.65],[74.0,-0.2],[75.0,1.0],[76.1,-0.85],[49.6,0.0],[50.1,-1.55],[50.6,1.25],[51.5,-0.55],[52.0,0.75],[52.9,-1.0],[53.4,0.5],[53.9,1.5],[54.4,-0.8],[54.9,0.1],[55.8,-1.35],[56.3,0.9],[56.8,-0.45],[57.3,1.2],[57.8,-1.15],[58.7,0.35],[59.2,-0.7],[59.7,1.0],[60.6,-1.5],[61.1,0.65],[62.0,-0.3],[63.0,1.35],[63.9,-1.1],[64.9,0.55],[79.5,0.2],[29.5,-0.9]];
const dense80 = [[42.3,0.6],[42.8,-1.1],[43.3,0.95],[43.8,-0.4],[44.3,1.3],[44.8,-1.45],[45.3,0.2],[45.8,-0.75],[46.3,1.1],[46.8,-0.05],[47.3,-1.25],[47.8,0.8],[48.3,0.3],[48.8,-0.95],[49.3,1.5],[49.8,-0.3],[50.3,0.55],[50.8,-1.5],[51.3,1.0],[51.8,-0.6],[52.3,0.15],[52.8,1.35],[53.3,-1.05],[53.8,0.4],[54.3,-0.2],[54.8,1.2],[55.3,-1.35],[55.8,0.7],[56.3,-0.5],[56.8,1.45],[57.3,-0.9],[57.8,0.05],[58.3,0.95],[58.8,-1.2],[59.3,0.35],[59.8,-0.65],[60.3,1.3],[60.8,-1.5],[61.3,0.6],[61.8,-0.1],[62.3,1.05],[62.8,-0.85],[63.3,0.25],[63.8,1.4],[64.3,-1.3],[64.8,0.5],[65.3,-0.4],[65.8,1.15],[66.3,-1.0],[66.8,0.1],[67.3,0.8],[67.8,-1.45],[68.3,0.45],[68.8,-0.25],[69.3,1.3],[69.8,-0.7],[70.3,0.2],[70.8,-1.2],[71.3,0.9],[71.8,-0.5],[72.3,1.45],[72.9,-0.95],[73.6,0.3],[74.4,-1.4],[75.2,0.65],[76.1,-0.2],[77.1,1.0],[78.2,-0.85],[50.8,0.0],[51.3,-1.55],[51.8,1.25],[52.7,-0.55],[53.2,0.75],[54.1,-1.0],[54.6,0.5],[55.1,1.5],[55.6,-0.8],[56.1,0.1],[57.0,-1.35],[57.5,0.9],[58.0,-0.45],[58.5,1.2],[59.0,-1.15],[59.9,0.35],[60.4,-0.7],[60.9,1.0],[61.8,-1.5],[62.3,0.65],[63.2,-0.3],[64.2,1.35],[65.1,-1.1],[66.1,0.55],[83.0,0.2],[35.2,-1.2]];
const dense90 = [[46.2,0.6],[46.7,-1.1],[47.2,0.95],[47.7,-0.4],[48.2,1.3],[48.7,-1.45],[49.2,0.2],[49.7,-0.75],[50.2,1.1],[50.7,-0.05],[51.2,-1.25],[51.7,0.8],[52.2,0.3],[52.7,-0.95],[53.2,1.5],[53.7,-0.3],[54.2,0.55],[54.7,-1.5],[55.2,1.0],[55.7,-0.6],[56.2,0.15],[56.7,1.35],[57.2,-1.05],[57.7,0.4],[58.2,-0.2],[58.7,1.2],[59.2,-1.35],[59.7,0.7],[60.2,-0.5],[60.7,1.45],[61.2,-0.9],[61.7,0.05],[62.2,0.95],[62.7,-1.2],[63.2,0.35],[63.7,-0.65],[64.2,1.3],[64.7,-1.5],[65.2,0.6],[65.7,-0.1],[66.2,1.05],[66.7,-0.85],[67.2,0.25],[67.7,1.4],[68.2,-1.3],[68.7,0.5],[69.2,-0.4],[69.7,1.15],[70.2,-1.0],[70.7,0.1],[71.2,0.8],[71.7,-1.45],[72.2,0.45],[72.7,-0.25],[73.2,1.3],[73.7,-0.7],[74.2,0.2],[74.7,-1.2],[75.2,0.9],[75.7,-0.5],[76.2,1.45],[76.8,-0.95],[77.5,0.3],[78.3,-1.4],[79.1,0.65],[80.0,-0.2],[81.0,1.0],[82.1,-0.85],[56.0,0.0],[56.5,-1.55],[57.0,1.25],[57.9,-0.55],[58.4,0.75],[59.3,-1.0],[59.8,0.5],[60.3,1.5],[60.8,-0.8],[61.3,0.1],[62.2,-1.35],[62.7,0.9],[63.2,-0.45],[63.7,1.2],[64.2,-1.15],[65.1,0.35],[65.6,-0.7],[66.1,1.0],[67.0,-1.5],[67.5,0.65],[68.4,-0.3],[69.4,1.35],[70.3,-1.1],[71.3,0.55],[84.2,0.2],[88.6,-1.2]];
const dense100 = [[50.2,0.6],[50.7,-1.1],[51.2,0.95],[51.7,-0.4],[52.2,1.3],[52.7,-1.45],[53.2,0.2],[53.7,-0.75],[54.2,1.1],[54.7,-0.05],[55.2,-1.25],[55.7,0.8],[56.2,0.3],[56.7,-0.95],[57.2,1.5],[57.7,-0.3],[58.2,0.55],[58.7,-1.5],[59.2,1.0],[59.7,-0.6],[60.2,0.15],[60.7,1.35],[61.2,-1.05],[61.7,0.4],[62.2,-0.2],[62.7,1.2],[63.2,-1.35],[63.7,0.7],[64.2,-0.5],[64.7,1.45],[65.2,-0.9],[65.7,0.05],[66.2,0.95],[66.7,-1.2],[67.2,0.35],[67.7,-0.65],[68.2,1.3],[68.7,-1.5],[69.2,0.6],[69.7,-0.1],[70.2,1.05],[70.7,-0.85],[71.2,0.25],[71.7,1.4],[72.2,-1.3],[72.7,0.5],[73.2,-0.4],[73.7,1.15],[74.2,-1.0],[74.7,0.1],[75.2,0.8],[75.7,-1.45],[76.2,0.45],[76.7,-0.25],[77.2,1.3],[77.7,-0.7],[78.2,0.2],[78.7,-1.2],[79.2,0.9],[79.7,-0.5],[80.2,1.45],[80.8,-0.95],[81.5,0.3],[82.3,-1.4],[83.1,0.65],[84.0,-0.2],[85.0,1.0],[86.1,-0.85],[59.8,0.0],[60.3,-1.55],[60.8,1.25],[61.7,-0.55],[62.2,0.75],[63.1,-1.0],[63.6,0.5],[64.1,1.5],[64.6,-0.8],[65.1,0.1],[66.0,-1.35],[66.5,0.9],[67.0,-0.45],[67.5,1.2],[68.0,-1.15],[68.9,0.35],[69.4,-0.7],[69.9,1.0],[70.8,-1.5],[71.3,0.65],[72.2,-0.3],[73.2,1.35],[74.1,-1.1],[75.1,0.55],[88.0,0.2],[44.0,-1.2]];

const violins = [violin0,violin10,violin20,violin30,violin40,violin50,violin60,violin70,violin80,violin90,violin100];
const pointSets = [
  points0.concat(dense0), points10.concat(dense10), points20.concat(dense20), points30.concat(dense30),
  points40.concat(dense40), points50.concat(dense50), points60.concat(dense60), points70.concat(dense70),
  points80.concat(dense80), points90.concat(dense90), points100.concat(dense100)
];

// ---------------- style ----------------
const palette = ['#F8766D','#DB8E00','#AEA200','#64B200','#00BD5C','#00C1A7','#00BADE','#00A6FF','#B385FF','#EF67EB','#FF63B6'];
const FONT = '"Liberation Sans", Arial, Helvetica, sans-serif';
const VIOLIN_BASE = 1.9, BOX_CENTER = 2.55, BOX_HALF = 0.45;

const datasets = [];
levels.forEach((lv, i) => {
  const col = palette[i];
  const base = lv + VIOLIN_BASE;
  const bc = lv + BOX_CENTER, bt = bc + BOX_HALF, bb = bc - BOX_HALF;
  datasets.push({
    type: 'line', order: 4,
    data: violins[i].map(([x, h]) => ({x, y: base + h})),
    fill: {value: base}, backgroundColor: col, borderColor: col, borderWidth: 1,
    pointRadius: 0, cubicInterpolationMode: 'monotone'
  });
  datasets.push({
    type: 'line', order: 3,
    data: [{x: boxMin[i], y: bc}, {x: boxMax[i], y: bc}],
    borderColor: '#000', borderWidth: 3.2, pointRadius: 0, fill: false, borderCapStyle: 'butt'
  });
  datasets.push({
    type: 'line', order: 2,
    data: [{x: boxQ1[i], y: bb}, {x: boxQ1[i], y: bt}, {x: boxQ3[i], y: bt}, {x: boxQ3[i], y: bb}, {x: boxQ1[i], y: bb}],
    fill: 'shape', backgroundColor: col, borderColor: '#000', borderWidth: 3,
    pointRadius: 0, borderJoinStyle: 'miter'
  });
  datasets.push({
    type: 'line', order: 1,
    data: [{x: boxMedian[i], y: bb}, {x: boxMedian[i], y: bt}],
    borderColor: '#000', borderWidth: 4.5, pointRadius: 0, fill: false, borderCapStyle: 'butt'
  });
  datasets.push({
    type: 'scatter', order: 0,
    data: pointSets[i].map(([x, dy]) => ({x, y: lv + dy})),
    pointStyle: 'circle', pointRadius: 2.1, backgroundColor: col, borderWidth: 0
  });
});

const panelLabel = {
  id: 'panelLabel',
  afterDraw(chart) {
    const ctx = chart.ctx, a = chart.chartArea;
    ctx.save();
    ctx.font = '58px ' + FONT;
    ctx.fillStyle = '#000';
    ctx.textBaseline = 'alphabetic';
    ctx.textAlign = 'left';
    ctx.fillText('A', a.left - 61, a.top - 30);
    ctx.restore();
  }
};

new Chart(document.getElementById('c'), {
  type: 'scatter',
  data: {datasets},
  plugins: [panelLabel],
  options: {
    responsive: false, animation: false, events: [],
    layout: {padding: {top: 122, right: 21, left: 0, bottom: 0}},
    plugins: {legend: {display: false}, tooltip: {enabled: false}},
    scales: {
      x: {
        type: 'linear', min: -1.65, max: 103.9,
        afterBuildTicks: s => { s.ticks = xTicks.map(v => ({value: v})); },
        afterFit: s => { s.height = 135; },
        grid: {display: true, drawOnChartArea: false, drawTicks: true, tickLength: 10, tickWidth: 2.2, tickColor: '#333333'},
        border: {display: true, color: '#000', width: 2.5},
        ticks: {font: {family: FONT, size: 48}, color: '#4D4D4D', padding: 3, maxRotation: 0, autoSkip: false},
        title: {display: true, text: 'Coherence ratings', font: {family: FONT, size: 58, lineHeight: 1.2}, color: '#000', padding: {top: 0, bottom: -2}}
      },
      y: {
        type: 'linear', min: -5.9, max: 106.6,
        afterBuildTicks: s => { s.ticks = yTicks.map(v => ({value: v})); },
        afterFit: s => { s.width = 207; },
        grid: {display: true, drawOnChartArea: false, drawTicks: true, tickLength: 10, tickWidth: 2.2, tickColor: '#333333'},
        border: {display: true, color: '#000', width: 2.5},
        ticks: {font: {family: FONT, size: 48}, color: '#4D4D4D', padding: 9, autoSkip: false},
        title: {display: true, text: 'Coherence level', font: {family: FONT, size: 58, lineHeight: 1.2}, color: '#000', padding: {top: 30, bottom: 0}}
      }
    }
  }
});
</script>
</body></html>
